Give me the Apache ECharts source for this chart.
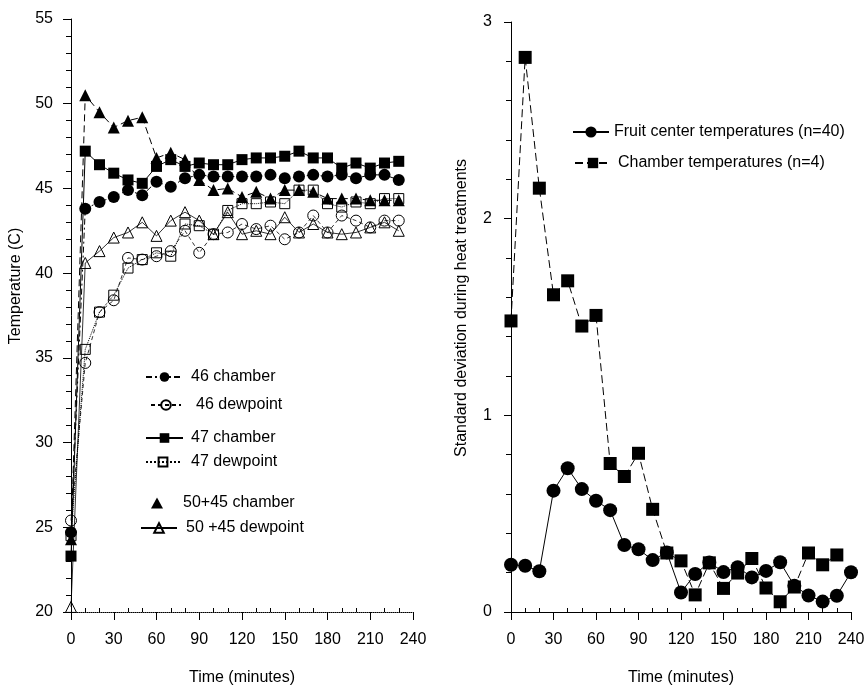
<!DOCTYPE html>
<html>
<head>
<meta charset="utf-8">
<script src="https://cdn.jsdelivr.net/npm/echarts@6/dist/echarts.min.js"></script>
<style>
html,body{margin:0;padding:0;background:#fff;}
#main{width:867px;height:686px;}
</style>
</head>
<body>
<div id="main"></div>
<script>
// ---------- data (left panel: temperature, C) ----------
const timeLeft = [0,10,20,30,40,50,60,70,80,90,100,110,120,130,140,150,160,170,180,190,200,210,220,230];
const chamber46 = [24.7,43.8,44.2,44.5,44.9,44.6,45.4,45.1,45.6,45.8,45.7,45.7,45.7,45.7,45.8,45.6,45.7,45.8,45.7,45.8,45.6,45.8,45.8,45.5];
const dewpoint46 = [25.4,34.7,37.7,38.4,40.9,40.8,41.0,41.3,42.5,41.2,42.3,42.4,42.9,42.6,42.8,42.0,42.4,43.4,42.4,43.4,43.1,42.7,43.1,43.1];
const chamber47 = [23.3,47.2,46.4,45.9,45.5,45.3,46.3,46.7,46.3,46.5,46.4,46.4,46.7,46.8,46.8,46.9,47.2,46.8,46.8,46.2,46.5,46.2,46.5,46.6];
const dewpoint47 = [24.5,35.5,37.7,38.7,40.3,40.8,41.2,41.0,42.9,42.8,42.3,43.7,44.1,44.1,44.2,44.1,44.9,44.9,44.1,43.9,44.2,44.1,44.4,44.4];
const chamber5045 = [24.3,50.5,49.5,48.6,49.0,49.2,46.8,47.1,46.7,45.5,44.9,45.0,44.5,44.8,44.4,44.9,44.9,44.8,44.4,44.4,44.4,44.3,44.3,44.3];
const dewpoint5045 = [20.3,40.6,41.3,42.1,42.4,43.0,42.2,43.1,43.6,43.1,42.3,43.6,42.3,42.5,42.3,43.3,42.4,42.9,42.4,42.3,42.4,42.7,43.0,42.5];

// ---------- data (right panel: standard deviation) ----------
const timeRight = [0,10,20,30,40,50,60,70,80,90,100,110,120,130,140,150,160,170,180,190,200,210,220,230,240];
const fruitSD = [0.24,0.235,0.207,0.617,0.731,0.625,0.566,0.518,0.341,0.319,0.264,0.303,0.099,0.193,0.252,0.203,0.228,0.176,0.209,0.253,0.133,0.084,0.053,0.083,0.202];
const chamberSD = [1.48,2.82,2.155,1.613,1.684,1.454,1.508,0.755,0.689,0.807,0.522,0.30,0.26,0.087,0.25,0.12,0.198,0.272,0.122,0.052,0.127,0.30,0.24,0.29];

// ---------- tick labels ----------
const timeTicks = [0,30,60,90,120,150,180,210,240];
const minorTimeTicks = [10,20,40,50,70,80,100,110,130,140,160,170,190,200,220,230];

const FONT = "'Liberation Sans', Arial, Helvetica, sans-serif";
const pairs = (xs, ys) => ys.map((v, i) => [xs[i], v]);

const chart = echarts.init(document.getElementById('main'), null, {renderer: 'canvas'});

function timeAxis(grid, dotted) {
  return [{
    type: 'value', gridIndex: grid, position: 'bottom', min: 0, max: 240, interval: 30,
    axisLine: {show: true, onZero: false, lineStyle: {color: '#000', width: 1, type: dotted ? 'dotted' : 'solid'}},
    axisTick: {show: true, inside: false, length: 8, lineStyle: {color: '#000'}},
    axisLabel: {show: true, color: '#000', fontSize: 16, fontFamily: FONT, margin: 20,
      customValues: timeTicks},
    splitLine: {show: false},
    name: 'Time (minutes)', nameLocation: 'middle', nameGap: 58,
    nameTextStyle: {color: '#000', fontSize: 16, fontFamily: FONT}
  }, {
    type: 'value', gridIndex: grid, position: 'bottom', offset: 0, min: 0, max: 240, interval: 10,
    axisLine: {show: false, onZero: false},
    axisTick: {show: true, inside: true, length: 4, lineStyle: {color: '#000'}, customValues: minorTimeTicks},
    axisLabel: {show: false},
    splitLine: {show: false}
  }];
}

const xAxes = timeAxis(0, true).concat(timeAxis(1, false));

const openItem = {color: 'rgba(0,0,0,0)', borderColor: '#000', borderWidth: 1};
const fillItem = {color: '#000', borderColor: '#000', borderWidth: 0};

function leftSeries(name, data, symbol, size, item, ltype, lwidth) {
  return {
    name: name, type: 'line', xAxisIndex: 0, yAxisIndex: 0,
    data: pairs(timeLeft, data),
    symbol: symbol, symbolSize: size, showSymbol: true,
    itemStyle: item,
    lineStyle: {color: '#000', width: lwidth || 1, type: ltype},
    emphasis: {disabled: true}, animation: false, z: 2
  };
}

const series = [
  leftSeries('50 +45 dewpoint', dewpoint5045, 'triangle', 11, openItem, 'solid', 0.8),
  leftSeries('47 dewpoint', dewpoint47, 'rect', 10, openItem, 'dotted', 1),
  leftSeries('46 dewpoint', dewpoint46, 'circle', 11, openItem, [4, 3], 0.8),
  leftSeries('50+45 chamber', chamber5045, 'triangle', 12, fillItem, [7, 4], 1),
  leftSeries('47 chamber', chamber47, 'rect', 11, fillItem, 'solid', 1),
  leftSeries('46 chamber', chamber46, 'circle', 12, fillItem, [6, 3, 2, 3], 1),
  {
    name: 'Fruit center temperatures (n=40)', type: 'line', xAxisIndex: 2, yAxisIndex: 2,
    data: pairs(timeRight, fruitSD), symbol: 'circle', symbolSize: 14,
    itemStyle: fillItem, lineStyle: {color: '#000', width: 1, type: 'solid'},
    emphasis: {disabled: true}, animation: false, z: 3
  },
  {
    name: 'Chamber temperatures (n=4)', type: 'line', xAxisIndex: 2, yAxisIndex: 2,
    data: pairs(timeRight, chamberSD), symbol: 'rect', symbolSize: 13,
    itemStyle: fillItem, lineStyle: {color: '#000', width: 1, type: [8, 4]},
    emphasis: {disabled: true}, animation: false, z: 2
  }
];

function legendEntry(name, left, yCenter, w, h, pad, icon) {
  const d = icon ? {name: name, icon: icon} : name;
  return {
    data: [d], left: left, top: yCenter - 9, orient: 'horizontal',
    itemWidth: w, itemHeight: h, padding: 0, selectedMode: false,
    textStyle: {color: '#000', fontSize: 16, fontFamily: FONT, padding: [0, 0, 0, pad], lineHeight: 18}
  };
}

const legends = [
  legendEntry('46 chamber', 145, 377, 37, 12, 3),
  legendEntry('46 dewpoint', 150, 405, 30, 12, 10),
  legendEntry('47 chamber', 145, 438, 37, 12, 3),
  legendEntry('47 dewpoint', 145, 462, 34, 11, 6),
  legendEntry('50+45 chamber', 151, 503, 12, 11, 15, 'triangle'),
  legendEntry('50 +45 dewpoint', 140, 528, 36, 12, 4),
  legendEntry('Fruit center temperatures (n=40)', 572, 132, 36, 14, 0),
  legendEntry('Chamber temperatures (n=4)', 574, 163, 36, 13, 2)
];

const option = {
  backgroundColor: '#fff',
  animation: false,
  textStyle: {fontFamily: FONT},
  grid: [
    {left: 71, top: 19, width: 342, height: 593, containLabel: false, outerBoundsMode: 'none'},
    {left: 511, top: 22, width: 340, height: 590, containLabel: false, outerBoundsMode: 'none'}
  ],
  xAxis: xAxes,
  yAxis: [
    {
      type: 'value', gridIndex: 0, min: 20, max: 55, interval: 5,
      axisLine: {show: true, onZero: false, lineStyle: {color: '#000', width: 1}},
      axisTick: {show: true, inside: false, length: 8, lineStyle: {color: '#000'}},
      minorTick: {show: true, splitNumber: 5, length: 5, lineStyle: {color: '#000'}},
      axisLabel: {color: '#000', fontSize: 16, fontFamily: FONT, margin: 18},
      splitLine: {show: false}, minorSplitLine: {show: false}
    },
    {
      type: 'value', gridIndex: 0, min: 20, max: 55, interval: 5, show: false
    },
    {
      type: 'value', gridIndex: 1, min: 0, max: 3, interval: 1,
      axisLine: {show: true, onZero: false, lineStyle: {color: '#000', width: 1}},
      axisTick: {show: true, inside: false, length: 7, lineStyle: {color: '#000'}},
      minorTick: {show: true, splitNumber: 5, length: 5, lineStyle: {color: '#000'}},
      axisLabel: {color: '#000', fontSize: 16, fontFamily: FONT, margin: 19},
      splitLine: {show: false}, minorSplitLine: {show: false}
    }
  ],
  legend: legends,
  graphic: [
    {
      type: 'text', x: 16, y: 286, rotation: Math.PI / 2,
      style: {text: 'Temperature (C)', fill: '#000', font: '16px ' + FONT, textAlign: 'center', textVerticalAlign: 'middle'}
    },
    {
      type: 'text', x: 462, y: 308, rotation: Math.PI / 2,
      style: {text: 'Standard deviation during heat treatments', fill: '#000', font: '16px ' + FONT, textAlign: 'center', textVerticalAlign: 'middle'}
    }
  ],
  series: series
};

option.xAxis[2].gridIndex = 1; option.xAxis[3].gridIndex = 1;
chart.setOption(option);
</script>
</body>
</html>
